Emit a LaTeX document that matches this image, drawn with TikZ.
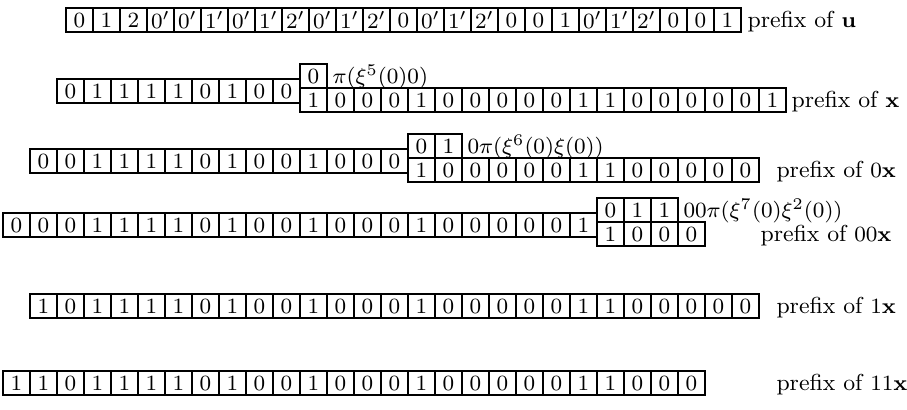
\documentclass[tikz,border=0pt]{standalone}
\begin{document}
\begin{tikzpicture}[x=0.3676pt,y=-0.3676pt,
  every node/.style={font=\fontsize{8.5}{10}\selectfont},
  cell/.style={draw=black,line width=0.4pt,minimum width=27*0.3676pt,minimum height=24*0.3676pt,inner sep=0pt,outer sep=0pt},
  lbl/.style={anchor=base west,inner sep=0pt},
  grp/.style={line width=0.9pt}]
\useasboundingbox (0,0) rectangle (907,409);
\def\cw{27}
\newcommand\cellrow[4]{%
  \foreach \v [count=\i] in {#4} {\node[cell] (#1-\i) at ({#2+(\i-0.5)*\cw},#3) {$\v$};}}
% row 1
\cellrow{u}{66}{20}{0,1,2,0',0',1',0',1',2',0',1',2',0,0',1',2',0,0,1,0',1',2',0,0,1}
\foreach \j in {3,4,5,7,10,14,20} {\draw[grp] (u-\j.north west) -- (u-\j.south west);}
\node[lbl] (lu) at (747,27.4) {prefix of $\mathbf{u}$};
% row 2
\cellrow{xl}{57}{91}{0,1,1,1,1,0,1,0,0}
\cellrow{xt}{300}{76}{0}
\cellrow{xb}{300}{100}{1,0,0,0,1,0,0,0,0,0,1,1,0,0,0,0,0,1}
\node[lbl] (px) at (332,83.4) {$\pi(\xi^5(0)0)$};
\node[lbl] (lx) at (791,107.4) {prefix of $\mathbf{x}$};
% row 3
\cellrow{yl}{30}{161}{0,0,1,1,1,1,0,1,0,0,1,0,0,0}
\cellrow{yt}{408}{146}{0,1}
\cellrow{yb}{408}{170}{1,0,0,0,0,0,1,1,0,0,0,0,0}
\node[lbl] (py) at (467,153.4) {$0\pi(\xi^6(0)\xi(0))$};
\node[lbl] (ly) at (776,177.4) {prefix of $0\mathbf{x}$};
% row 4
\cellrow{zl}{3}{225}{0,0,0,1,1,1,1,0,1,0,0,1,0,0,0,1,0,0,0,0,0,1}
\cellrow{zt}{597}{210}{0,1,1}
\cellrow{zb}{597}{234}{1,0,0,0}
\node[lbl] (pz) at (683,217.4) {$00\pi(\xi^7(0)\xi^2(0))$};
\node[lbl] (lz) at (760,241.4) {prefix of $00\mathbf{x}$};
% row 5
\cellrow{v}{30}{306}{1,0,1,1,1,1,0,1,0,0,1,0,0,0,1,0,0,0,0,0,1,1,0,0,0,0,0}
\node[lbl] (lv) at (776,313.4) {prefix of $1\mathbf{x}$};
% row 6
\cellrow{w}{3}{383}{1,1,0,1,1,1,1,0,1,0,0,1,0,0,0,1,0,0,0,0,0,1,1,0,0,0}
\node[lbl] (lw) at (776,390.4) {prefix of $11\mathbf{x}$};
\end{tikzpicture}
\end{document}
